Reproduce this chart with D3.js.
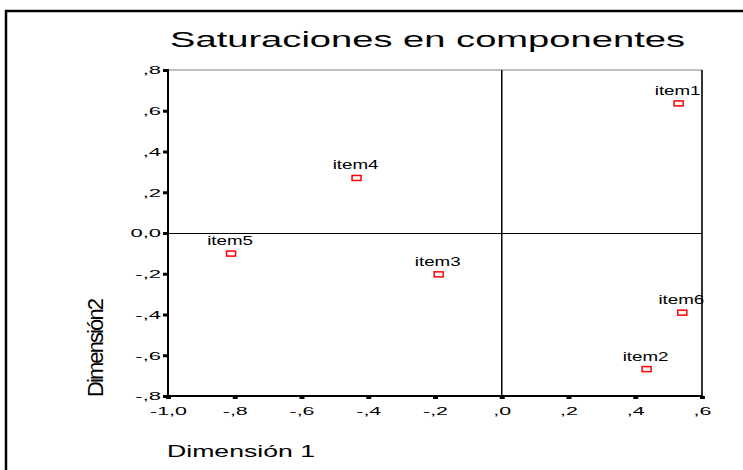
<!DOCTYPE html>
<html><head><meta charset="utf-8">
<script src="https://cdn.jsdelivr.net/npm/d3@7"></script>
<style>
html,body{margin:0;padding:0;background:#fff;}
svg{display:block;font-family:"Liberation Sans",Arial,sans-serif;}
</style></head>
<body>
<svg id="chart" width="743" height="470"></svg>
<script>
const title = "Saturaciones en componentes";
const xTitle = "Dimensión 1";
const yTitle = "Dimensión2";
const items = ["item1","item2","item3","item4","item5","item6"];
const dim1 = [0.530, 0.434, -0.189, -0.435, -0.811, 0.541];
const dim2 = [0.636, -0.668, -0.203, 0.270, -0.101, -0.391];
const xTicks = [-1.0,-0.8,-0.6,-0.4,-0.2,0.0,0.2,0.4,0.6];
const xTickLabels = ["-1,0","-,8","-,6","-,4","-,2",",0",",2",",4",",6"];
const yTicks = [0.8,0.6,0.4,0.2,0.0,-0.2,-0.4,-0.6,-0.8];
const yTickLabels = [",8",",6",",4",",2","0,0","-,2","-,4","-,6","-,8"];

const svg = d3.select("#chart");
const L = 168, R = 702, T = 70, B = 396;
const x = d3.scaleLinear().domain([-1.0, 0.6]).range([L, R]);
const y = d3.scaleLinear().domain([-0.8, 0.8]).range([B, T]);

// outer frame
svg.append("path").attr("d", `M6,470 L6,11 L743,11`).attr("fill","none")
  .attr("stroke","#000").attr("stroke-width",2.5);

// title
svg.append("text").attr("x",170).attr("y",47).attr("font-size",22)
  .attr("textLength",515).attr("lengthAdjust","spacingAndGlyphs")
  .attr("fill","#000").text(title);

// plot border top (grey) and right (black)
svg.append("line").attr("x1",L).attr("x2",R).attr("y1",T).attr("y2",T)
  .attr("stroke","#808080").attr("stroke-width",1.2);
svg.append("line").attr("x1",R).attr("x2",R).attr("y1",T).attr("y2",B)
  .attr("stroke","#000").attr("stroke-width",1.6);

// zero lines
const y0 = Math.round(y(0)) + 0.5;
svg.append("line").attr("x1",L).attr("x2",R).attr("y1",y0).attr("y2",y0)
  .attr("stroke","#000").attr("stroke-width",1);
svg.append("line").attr("x1",x(0)).attr("x2",x(0)).attr("y1",T).attr("y2",B)
  .attr("stroke","#000").attr("stroke-width",1.5);

// axes
const xAxis = d3.axisBottom(x).tickValues(xTicks).tickSize(3).tickPadding(0)
  .tickFormat((d,i)=>xTickLabels[i]);
const gx = svg.append("g").attr("transform",`translate(0,${B})`).call(xAxis);
gx.select(".domain").remove();
gx.selectAll(".tick line").attr("stroke","#000").attr("stroke-width",5);
gx.selectAll(".tick text").attr("font-size",11).attr("fill","#000")
  .attr("font-family","Liberation Sans, Arial, sans-serif")
  .attr("y",0).attr("dy",null)
  .attr("transform","translate(0,19) scale(1.95,1)");

const yAxis = d3.axisLeft(y).tickValues(yTicks).tickSize(5).tickPadding(0)
  .tickFormat((d,i)=>yTickLabels[i]);
const gy = svg.append("g").attr("transform",`translate(${L},0)`).call(yAxis);
gy.select(".domain").remove();
gy.selectAll(".tick line").attr("stroke","#000").attr("stroke-width",3);
gy.selectAll(".tick text").attr("font-size",11).attr("fill","#000")
  .attr("font-family","Liberation Sans, Arial, sans-serif")
  .attr("x",0).attr("dy","0.35em")
  .attr("transform","translate(-7,0) scale(2,1)");

// axis lines
svg.append("line").attr("x1",L).attr("x2",L).attr("y1",T-1).attr("y2",B+1)
  .attr("stroke","#000").attr("stroke-width",2);
svg.append("line").attr("x1",L-1).attr("x2",R+1).attr("y1",B).attr("y2",B)
  .attr("stroke","#000").attr("stroke-width",2);

// axis titles
svg.append("text").attr("x",167).attr("y",457).attr("font-size",17)
  .attr("textLength",148).attr("lengthAdjust","spacingAndGlyphs")
  .attr("fill","#000").text(xTitle);
svg.append("text").attr("transform","translate(103,397) rotate(-90)")
  .attr("font-size",22).attr("textLength",99).attr("lengthAdjust","spacing")
  .attr("fill","#000").text(yTitle);

// points
const pts = items.map((n,i)=>({name:n, d1:dim1[i], d2:dim2[i]}));
const g = svg.append("g");
g.selectAll("rect").data(pts).join("rect")
  .attr("x",d=>x(d.d1)-4.5).attr("y",d=>y(d.d2)-2.5)
  .attr("width",9).attr("height",5)
  .attr("fill","#fff").attr("stroke","#ff0000").attr("stroke-width",1.5);
g.selectAll("text").data(pts).join("text")
  .attr("transform",d=>`translate(${x(d.d1)-1},${y(d.d2)-8.5}) scale(1.5,1)`)
  .attr("text-anchor","middle").attr("font-size",12.5).attr("fill","#000")
  .text(d=>d.name);
</script>
</body></html>
